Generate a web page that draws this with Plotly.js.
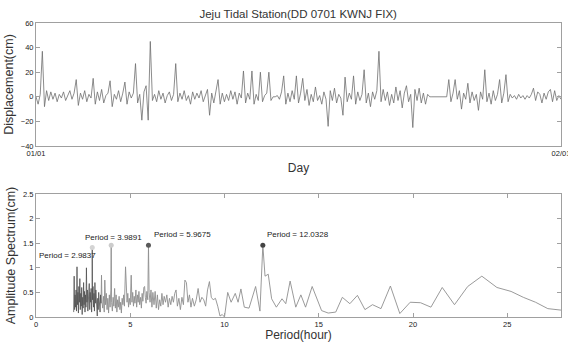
<!DOCTYPE html>
<html><head><meta charset="utf-8">
<script src="https://cdn.plot.ly/plotly-3.0.1.min.js"></script>
<style>html,body{margin:0;padding:0;background:#fff;}#chart{width:568px;height:342px;}</style>
</head><body><div id="chart"></div>
<script>
// ---- top panel: displacement (cm), every 3 hours from 2007-01-01 00:00 to 2007-02-01 00:00
const startTime = '2007-01-01T00:00:00';
const stepHours = 3;
const displacement = [
 0, -6, 2, 37, -8, 5, -3, 4, -2, 3,
 -4, 2, -1, 4, -3, 1, 5, -2, 3, 14,
 -7, 3, -2, 5, -4, 2, -1, 15, -6, 4,
 -3, 6, -5, 1, 3, 13, -8, 2, -2, 5,
 -4, 3, 12, -6, 4, -1, 3, 27, -5, 2,
 -19, 4, 9, -19, 45, -3, 2, -4, 5, -2,
 3, -5, 1, 4, -3, 2, 27, -4, 3, -2,
 5, -3, 1, -6, 4, -2, 3, -1, 5, -4,
 2, 6, -15, 3, -5, 4, 14, -6, 3, -4,
 2, -3, 5, -2, 4, -6, 3, -1, 21, -5,
 3, -2, 21, -6, 2, -3, 20, -4, 1, 3,
 20, -3, 0, 0, 1, -2, 4, 17, -6, 3,
 -4, 5, -2, 17, -5, 3, 15, -3, 6, -7,
 2, -4, 8, -3, 1, -6, 4, -2, -24, 5,
 -3, 7, -5, 2, -1, -15, 16, -4, 3, -2,
 17, -6, 4, -3, 2, 22, -5, 3, -8, 4,
 -2, 5, 37, -4, 6, -3, 4, -7, 2, -5,
 8, -3, 5, -9, 3, 9, -4, 2, -25, 6,
 -3, 7, -5, 3, -6, 2, 0, 0, 0, 0,
 0, 0, 0, 0, 0, 14, -4, 3, 14, -2,
 5, -10, 3, -2, 11, -5, 4, -3, 2, -11,
 4, -2, 22, -4, 3, -6, 5, -3, 2, 14,
 -5, 3, 18, -4, 2, -1, 1, -2, 2, -1,
 1, -2, 1, -1, 2, 7, -3, 4, 2, -5,
 3, -2, 4, 6, -4, 5, -3, 1, -2
];
const dayTickVals = ['2007-01-01', '2007-02-01'];
const dayTickText = ['01/01', '02/01'];

// ---- bottom panel: amplitude spectrum
const periods = [
 2.000,2.025,2.050,2.075,2.100,2.125,2.150,2.175,2.200,2.225,2.250,2.275,2.300,2.325,2.350,2.375,2.400,2.425,2.450,2.475,
 2.500,2.525,2.550,2.575,2.600,2.625,2.650,2.675,2.700,2.725,2.750,2.775,2.800,2.825,2.850,2.875,2.900,2.925,2.950,2.975,
 2.9837,3.000,3.025,3.050,3.075,3.100,3.125,3.150,3.175,3.200,3.225,3.250,3.275,3.300,3.325,3.350,3.375,3.400,3.425,3.450,
 3.475,3.50,3.54,3.58,3.62,3.65,3.69,3.73,3.77,3.81,3.85,3.89,3.93,3.97,3.9891,4.01,4.05,4.09,4.13,4.17,
 4.21,4.25,4.29,4.33,4.37,4.41,4.45,4.49,4.53,4.57,4.61,4.65,4.69,4.75,4.79,4.83,4.87,4.91,4.95,5.00,
 5.05,5.09,5.13,5.17,5.21,5.25,5.30,5.34,5.38,5.42,5.46,5.50,5.55,5.59,5.63,5.67,5.72,5.76,5.80,5.84,
 5.88,5.93,5.9675,6.00,6.05,6.10,6.15,6.20,6.26,6.32,6.38,6.44,6.50,6.56,6.62,6.68,6.74,6.80,6.87,6.94,
 7.01,7.08,7.15,7.22,7.29,7.36,7.43,7.50,7.58,7.66,7.74,7.82,7.90,7.98,8.06,8.14,8.22,8.30,8.40,8.50,
 8.60,8.70,8.80,8.90,9.00,9.10,9.20,9.30,9.40,9.52,9.64,9.76,9.88,10.00,10.17,10.35,10.57,10.72,10.87,11.05,
 11.30,11.65,11.88,12.0328,12.15,12.32,12.50,12.75,13.05,13.25,13.48,13.78,14.05,14.30,14.65,15.15,15.50,15.90,16.25,16.65,
 17.05,17.45,17.85,18.30,18.80,19.30,19.85,20.40,20.95,21.55,22.20,22.90,23.65,24.45,25.20,25.85,26.50,27.15,27.85
];
const amplitude = [
 0.10,0.83,0.15,0.45,0.20,0.55,0.12,1.02,0.25,0.50,0.08,0.62,0.30,0.78,0.15,0.48,0.22,0.60,0.05,0.40,
 0.18,0.70,0.25,0.52,0.10,0.45,0.20,1.00,0.30,0.55,0.12,0.42,0.25,0.68,0.15,0.50,0.30,0.58,0.10,0.45,
 1.41,0.35,0.62,0.20,0.48,0.12,0.70,0.28,0.55,0.18,0.40,0.02,0.38,0.15,0.50,0.22,0.35,0.10,0.45,0.28,
 0.85,0.30,0.18,0.42,0.10,0.75,0.25,0.48,0.15,0.38,0.08,0.45,0.20,0.55,1.46,0.30,0.12,0.40,0.22,0.58,
 0.18,0.45,0.10,0.35,0.20,0.42,0.15,0.30,0.08,0.38,0.25,0.45,0.22,1.02,0.55,0.30,0.48,0.20,0.38,0.25,
 0.85,0.30,0.50,0.22,0.42,0.28,0.55,0.20,0.45,0.30,0.52,0.25,0.40,0.18,0.48,0.32,0.60,0.62,0.40,0.28,
 0.52,0.35,1.46,0.50,0.30,0.55,0.20,0.50,0.25,0.52,0.18,0.45,0.15,0.35,0.22,0.48,0.25,0.42,0.30,0.45,
 0.20,0.38,0.25,0.42,0.30,0.48,0.55,0.22,0.38,0.15,0.40,0.25,0.75,0.70,0.30,0.45,0.20,0.38,0.22,0.35,
 0.58,0.30,0.40,0.35,0.22,0.55,0.72,0.40,0.35,0.38,0.22,0.02,0.05,0.00,0.50,0.30,0.48,0.30,0.57,0.20,
 0.18,0.62,0.12,1.46,0.83,0.87,0.37,0.20,0.37,0.27,0.73,0.20,0.45,0.20,0.62,0.13,0.08,0.10,0.40,0.27,
 0.44,0.15,0.25,0.17,0.63,0.07,0.30,0.29,0.20,0.60,0.25,0.62,0.83,0.60,0.52,0.40,0.30,0.17,0.14
];
const denseUntil = 3.45;   // the crowded short-period part is drawn darker, as in the picture
const peakPeriods = [2.9837, 3.9891, 5.9675, 12.0328];
const peakAmps = [1.41, 1.46, 1.46, 1.46];
const peakColors = ['#d4d4d4', '#cccccc', '#5a5a5a', '#444444'];
const peakLabels = ['Period = 2.9837', 'Period = 3.9891', 'Period = 5.9675', 'Period = 12.0328'];
const labelX = [0.03, 2.5, 6.15, 12.15];
const labelY = [1.25, 1.61, 1.67, 1.67];

const times = displacement.map((_, i) => {
  const d = new Date(startTime + 'Z');
  d.setUTCHours(d.getUTCHours() + i * stepHours);
  return d.toISOString().slice(0, 19).replace('T', ' ');
});

const cut = periods.findIndex(p => p > denseUntil);

const FONT = 'Liberation Sans, Arial, sans-serif';
const axisCommon = {
  showgrid: false, zeroline: false, showline: true, linecolor: '#a0a0a0', linewidth: 1,
  mirror: 'ticks', ticks: 'inside', ticklen: 4, tickcolor: '#a0a0a0',
  tickfont: {family: FONT, size: 7.5, color: '#222'}
};

const traces = [
  {x: times, y: displacement, type: 'scatter', mode: 'lines', xaxis: 'x', yaxis: 'y',
   line: {color: '#6e6e6e', width: 0.8}, hoverinfo: 'skip'},
  {x: periods.slice(cut - 1), y: amplitude.slice(cut - 1), type: 'scatter', mode: 'lines', xaxis: 'x2', yaxis: 'y2',
   line: {color: '#8e8e8e', width: 0.9}, hoverinfo: 'skip'},
  {x: periods.slice(0, cut), y: amplitude.slice(0, cut), type: 'scatter', mode: 'lines', xaxis: 'x2', yaxis: 'y2',
   line: {color: '#505050', width: 0.8}, hoverinfo: 'skip'},
  {x: peakPeriods, y: peakAmps, type: 'scatter', mode: 'markers', xaxis: 'x2', yaxis: 'y2',
   marker: {color: peakColors, size: 5}, hoverinfo: 'skip'}
];

const annotations = peakLabels.map((t, i) => ({
  x: labelX[i], y: labelY[i], xref: 'x2', yref: 'y2', text: t, showarrow: false,
  xanchor: 'left', yanchor: 'middle', font: {family: FONT, size: 8, color: '#222'}
}));

const layout = {
  width: 568, height: 342,
  margin: {l: 36, r: 7, t: 23, b: 25},
  paper_bgcolor: '#fff', plot_bgcolor: '#fff',
  showlegend: false,
  title: {text: 'Jeju Tidal Station(DD 0701 KWNJ FIX)', font: {family: FONT, size: 11.5, color: '#333'},
          x: 0.525, xanchor: 'center', y: 0.958, yanchor: 'middle'},
  xaxis: Object.assign({}, axisCommon, {
    domain: [0, 1], anchor: 'y', type: 'date', range: ['2007-01-01', '2007-02-01'],
    tickmode: 'array', tickvals: dayTickVals, ticktext: dayTickText, ticklen: 0,
    ticklabeloverflow: 'allow',
    title: {text: 'Day', font: {family: FONT, size: 12, color: '#333'}, standoff: 6}
  }),
  yaxis: Object.assign({}, axisCommon, {
    domain: [0.5816, 1], anchor: 'x', range: [-40, 60], tickvals: [-40, -20, 0, 20, 40, 60],
    title: {text: 'Displacement(cm)', font: {family: FONT, size: 12.5, color: '#333'}, standoff: 4}
  }),
  xaxis2: Object.assign({}, axisCommon, {
    domain: [0, 1], anchor: 'y2', range: [0, 27.85], tickvals: [0, 5, 10, 15, 20, 25],
    title: {text: 'Period(hour)', font: {family: FONT, size: 12, color: '#333'}, standoff: 2}
  }),
  yaxis2: Object.assign({}, axisCommon, {
    domain: [0, 0.4184], anchor: 'x2', range: [0, 2.5], tickvals: [0, 0.5, 1, 1.5, 2, 2.5],
    ticktext: ['0', '0.5', '1', '1.5', '2', '2.5'],
    title: {text: 'Amplitude Spectrum(cm)', font: {family: FONT, size: 12.5, color: '#333'}, standoff: 4}
  }),
  annotations: annotations
};

Plotly.newPlot('chart', traces, layout, {staticPlot: true, displayModeBar: false});
</script></body></html>
